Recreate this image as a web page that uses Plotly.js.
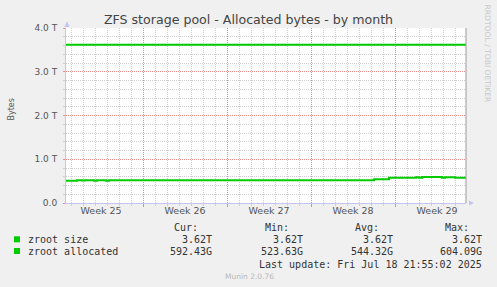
<!DOCTYPE html>
<html><head><meta charset="utf-8">
<script src="https://cdn.plot.ly/plotly-3.0.1.min.js"></script>
<style>html,body{margin:0;padding:0;background:#f0f0f0;} #chart{width:497px;height:287px;}</style>
</head><body><div id="chart"></div>
<script>
// ---- data ----
const chartTitle = 'ZFS storage pool - Allocated bytes - by month';
const yTitle = 'Bytes';
const seriesNames = ['zroot size', 'zroot allocated'];
const seriesColors = ['#00cc00', '#00cc00'];

const sizeTimes = ['2025-06-15 13:55', '2025-07-18 21:55'];
const sizeValues = [3.62, 3.62];

const allocTimes = [
  '2025-06-15 13:55', '2025-06-16 12:00', '2025-06-16 22:00', '2025-06-17 04:00',
  '2025-06-17 22:00', '2025-06-18 04:00', '2025-06-18 22:00', '2025-06-19 04:00',
  '2025-07-11 06:00', '2025-07-12 12:00', '2025-07-14 18:00', '2025-07-15 00:00',
  '2025-07-15 06:00', '2025-07-16 22:00', '2025-07-17 04:00', '2025-07-18 00:00',
  '2025-07-18 21:55'
];
const allocValues = [
  0.508, 0.522, 0.514, 0.522,
  0.508, 0.522, 0.508, 0.522,
  0.542, 0.576, 0.590, 0.578,
  0.592, 0.578, 0.590, 0.579,
  0.579
];

const xRange = ['2025-06-15 13:55', '2025-07-18 21:55'];
const weekStart = '2025-06-22';
const dayStart = '2025-06-15';
const weekLabelDates = ['2025-06-18 12:00', '2025-06-25 12:00', '2025-07-02 12:00', '2025-07-09 12:00', '2025-07-16 12:00'];
const weekLabels = ['Week 25', 'Week 26', 'Week 27', 'Week 28', 'Week 29'];

const yTickVals = [0, 1, 2, 3, 4];
const yTickText = ['0.0', '1.0 T', '2.0 T', '3.0 T', '4.0 T'];

const statHeaders = ['Cur:', 'Min:', 'Avg:', 'Max:'];
const curValues = ['3.62T', '592.43G'];
const minValues = ['3.62T', '523.63G'];
const avgValues = ['3.62T', '544.32G'];
const maxValues = ['3.62T', '604.09G'];
const lastUpdate = 'Last update: Fri Jul 18 21:55:02 2025';
const footer = 'Munin 2.0.76';
const sideText = 'RRDTOOL / TOBI OETIKER';

// ---- geometry helpers (pixel -> paper) ----
const L = 66, R = 31, T = 28, B = 84, W = 497, H = 287;
const PW = W - L - R, PH = H - T - B;
const PX = x => (x - L) / PW;
const PY = y => (H - B - y) / PH;

const SANS = 'DejaVu Sans';
const MONO = 'DejaVu Sans Mono';
const gridRed = '#ec8a8a';
const gridGray = '#d0d0d0';
const axisBlue = '#c4c4f0';

const traces = [
  {x: sizeTimes, y: sizeValues, name: seriesNames[0], mode: 'lines', xaxis: 'x2',
   line: {color: seriesColors[0], width: 2}, hoverinfo: 'skip'},
  {x: allocTimes, y: allocValues, name: seriesNames[1], mode: 'lines',
   line: {color: seriesColors[1], width: 2, shape: 'hv'}, hoverinfo: 'skip'}
];

const annotations = [];
function txt(text, x, y, xanchor, font, extra) {
  annotations.push(Object.assign({text, x: PX(x), y: PY(y), xref: 'paper', yref: 'paper',
    xanchor, yanchor: 'middle', showarrow: false, borderpad: 0, font}, extra || {}));
}
const legFont = {family: MONO, size: 10, color: '#333'};
const headerRight = [198.5, 289.5, 379.5, 469.5];
const valueRight = [212.5, 304, 393.5, 483];
const rowY = [239.3, 251];
statHeaders.forEach((h, i) => txt(h, headerRight[i], 227.7, 'right', legFont));
const cols = [curValues, minValues, avgValues, maxValues];
seriesNames.forEach((n, r) => {
  txt(n, 26.5, rowY[r], 'left', legFont);
  cols.forEach((c, i) => txt(c[r], valueRight[i], rowY[r], 'right', legFont));
});
txt(lastUpdate, 483, 264, 'right', legFont);
txt(footer, 224, 276, 'left', {family: SANS, size: 7.5, color: '#b8b8b8'});
txt(yTitle, 10.5, 109, 'center', {family: SANS, size: 8, color: '#555'}, {textangle: -90});
txt(sideText, 487.5, 54, 'center', {family: SANS, size: 7.6, color: '#c8c8c8'}, {textangle: 90});

const shapes = [
  {type: 'line', xref: 'paper', yref: 'paper', x0: 1, x1: 1, y0: 0, y1: 1, line: {color: '#999', width: 1}},
  {type: 'path', xref: 'paper', yref: 'paper', path: `M ${PX(67)} ${PY(21)} L ${PX(64.5)} ${PY(27)} L ${PX(69.5)} ${PY(27)} Z`,
   fillcolor: axisBlue, line: {width: 0}},
  {type: 'path', xref: 'paper', yref: 'paper', path: `M ${PX(474)} ${PY(203)} L ${PX(469)} ${PY(200.5)} L ${PX(469)} ${PY(205.5)} Z`,
   fillcolor: axisBlue, line: {width: 0}}
];
rowY.forEach((yy, r) => shapes.push({type: 'rect', xref: 'paper', yref: 'paper',
  x0: PX(14), x1: PX(20), y0: PY(yy - 3), y1: PY(yy + 3), fillcolor: seriesColors[r], line: {width: 0}}));

const layout = {
  width: W, height: H,
  margin: {l: L, r: R, t: T, b: B, pad: 0},
  paper_bgcolor: '#f0f0f0', plot_bgcolor: '#ffffff',
  showlegend: false,
  title: {text: chartTitle, font: {family: SANS, size: 12.6, color: '#444'},
          x: 0.5, xref: 'container', y: 1 - 19.5 / H, yref: 'container', yanchor: 'middle', xanchor: 'center'},
  // main x axis: weekly red grid + daily gray minor grid, no labels
  xaxis: {type: 'date', range: xRange, fixedrange: true,
    tickmode: 'linear', tick0: weekStart, dtick: 7 * 86400000,
    showticklabels: false, ticks: 'outside', ticklen: 3, tickcolor: gridRed,
    showgrid: true, gridcolor: gridRed, griddash: '1px,1px', gridwidth: 1,
    zeroline: false, showline: true, linecolor: axisBlue, linewidth: 1,
    minor: {tickmode: 'linear', tick0: dayStart, dtick: 86400000, showgrid: true,
      gridcolor: gridGray, griddash: '1px,1px', gridwidth: 1, ticks: 'outside', ticklen: 2, tickcolor: gridGray}},
  // overlay x axis: week labels
  xaxis2: {type: 'date', range: xRange, overlaying: 'x', anchor: 'y', side: 'bottom', fixedrange: true,
    tickmode: 'array', tickvals: weekLabelDates, ticktext: weekLabels, ticks: '',
    showgrid: false, showline: false, zeroline: false,
    tickfont: {family: SANS, size: 9.5, color: '#555'}},
  yaxis: {range: [0, 4], fixedrange: true, tickmode: 'array', tickvals: yTickVals, ticktext: yTickText,
    showgrid: true, gridcolor: gridRed, griddash: '1px,1px', gridwidth: 1,
    showline: true, linecolor: axisBlue, linewidth: 1, zeroline: false,
    ticks: 'outside', ticklen: 2, tickcolor: gridRed, ticklabelstandoff: 4,
    tickfont: {family: SANS, size: 9, color: '#555'},
    minor: {tickmode: 'linear', tick0: 0, dtick: 0.2, showgrid: true,
      gridcolor: gridGray, griddash: '1px,1px', gridwidth: 1, ticks: 'outside', ticklen: 2, tickcolor: gridGray}},
  annotations, shapes
};

Plotly.newPlot('chart', traces, layout, {displayModeBar: false, staticPlot: true});
</script>
</body></html>
